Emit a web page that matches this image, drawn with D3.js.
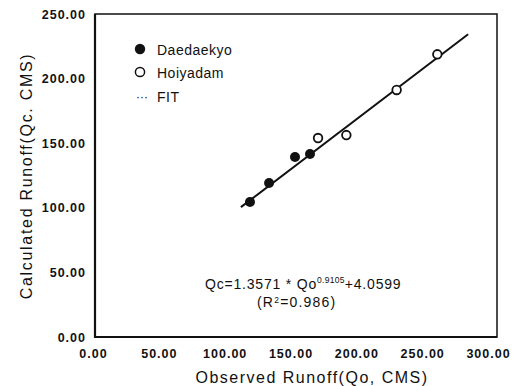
<!DOCTYPE html>
<html><head><meta charset="utf-8">
<script src="https://cdn.jsdelivr.net/npm/d3@7"></script>
<style>body{margin:0;background:#fff}svg{display:block}text{font-family:"Liberation Sans",Arial,sans-serif;fill:#111}</style>
</head><body>
<svg id="c" width="530" height="386"></svg>
<script>
const xTicks = [0, 50, 100, 150, 200, 250, 300];
const yTicks = [0, 50, 100, 150, 200, 250];
const daeX = [117.7, 132.2, 151.9, 163.3];
const daeY = [104.5, 119.2, 139.3, 141.6];
const hoiX = [169.4, 190.9, 229.1, 260.0];
const hoiY = [154.0, 156.3, 191.2, 218.8];
const fitX = [110.8, 283.4];
const fitY = [100.5, 234.3];

const svg = d3.select("#c");
const x = d3.scaleLinear().domain([0, 300]).range([95, 490]);
const y = d3.scaleLinear().domain([0, 250]).range([337, 14]);
const frameRight = 497;

// frame
svg.append("rect").attr("x", 95).attr("y", 14).attr("width", frameRight - 95).attr("height", 337 - 14)
  .attr("fill", "none").attr("stroke", "#111").attr("stroke-width", 1.5);
svg.append("line").attr("x1", 95).attr("x2", 95).attr("y1", 14).attr("y2", 338).attr("stroke", "#111").attr("stroke-width", 2.2);
svg.append("line").attr("x1", 94).attr("x2", frameRight).attr("y1", 337).attr("y2", 337).attr("stroke", "#111").attr("stroke-width", 2.2);

// axes via d3 (labels only)
const xAxis = d3.axisBottom(x).tickValues(xTicks).tickFormat(d3.format(".2f")).tickSize(0).tickPadding(12);
const gx = svg.append("g").attr("transform", "translate(0,337)").call(xAxis);
gx.select(".domain").remove();
gx.selectAll("text").attr("font-size", 12.5).attr("font-weight", "bold").attr("letter-spacing", 1).attr("dx", -2);
const yAxis = d3.axisLeft(y).tickValues(yTicks).tickFormat(d3.format(".2f")).tickSize(0).tickPadding(9);
const gy = svg.append("g").attr("transform", "translate(95,0)").call(yAxis);
gy.select(".domain").remove();
gy.selectAll("text").attr("font-size", 12.5).attr("font-weight", "bold").attr("letter-spacing", 1);

// axis titles
svg.append("text").attr("x", 312).attr("y", 383).attr("text-anchor", "middle").attr("font-size", 16).attr("letter-spacing", 1.5).text("Observed Runoff(Qo, CMS)");
svg.append("text").attr("transform", "translate(32,176) rotate(-90)").attr("text-anchor", "middle").attr("font-size", 16).attr("letter-spacing", 1.7).text("Calculated Runoff(Qc. CMS)");

// fit line
const fitPts = fitX.map((v, i) => [v, fitY[i]]);
svg.append("path").attr("d", d3.line().x(d => x(d[0])).y(d => y(d[1]))(fitPts))
  .attr("fill", "none").attr("stroke", "#111").attr("stroke-width", 2);

// points
svg.selectAll(".dae").data(daeX.map((v, i) => [v, daeY[i]])).join("circle")
  .attr("cx", d => x(d[0])).attr("cy", d => y(d[1])).attr("r", 5).attr("fill", "#111");
svg.selectAll(".hoi").data(hoiX.map((v, i) => [v, hoiY[i]])).join("circle")
  .attr("cx", d => x(d[0])).attr("cy", d => y(d[1])).attr("r", 4.3).attr("fill", "#fff").attr("stroke", "#111").attr("stroke-width", 1.8);

// legend
svg.append("circle").attr("cx", 140).attr("cy", 49).attr("r", 5.2).attr("fill", "#111");
svg.append("text").attr("x", 157).attr("y", 55).attr("font-size", 14).attr("letter-spacing", 0.5).text("Daedaekyo");
svg.append("circle").attr("cx", 140).attr("cy", 72).attr("r", 4.6).attr("fill", "#fff").attr("stroke", "#111").attr("stroke-width", 1.5);
svg.append("text").attr("x", 157).attr("y", 77.5).attr("font-size", 14).attr("letter-spacing", 0.5).text("Hoiyadam");
svg.append("text").attr("x", 136).attr("y", 101).attr("font-size", 12).text("···");
svg.append("text").attr("x", 157).attr("y", 101.5).attr("font-size", 14).attr("letter-spacing", 0.5).text("FIT");

// equation
const eq = svg.append("text").attr("x", 205).attr("y", 289).attr("font-size", 14).attr("letter-spacing", 0.8);
eq.append("tspan").text("Qc=1.3571 * Qo");
eq.append("tspan").attr("font-size", 8.5).attr("dy", -6).attr("letter-spacing", 0.3).text("0.9105");
eq.append("tspan").attr("dy", 6).attr("letter-spacing", 0.8).text("+4.0599");
const r2 = svg.append("text").attr("x", 257).attr("y", 307).attr("font-size", 14).attr("letter-spacing", 1.2);
r2.append("tspan").text("(R");
r2.append("tspan").attr("font-size", 8.5).attr("dy", -4).text("2");
r2.append("tspan").attr("dy", 4).text("=0.986)");
</script>
</body></html>
